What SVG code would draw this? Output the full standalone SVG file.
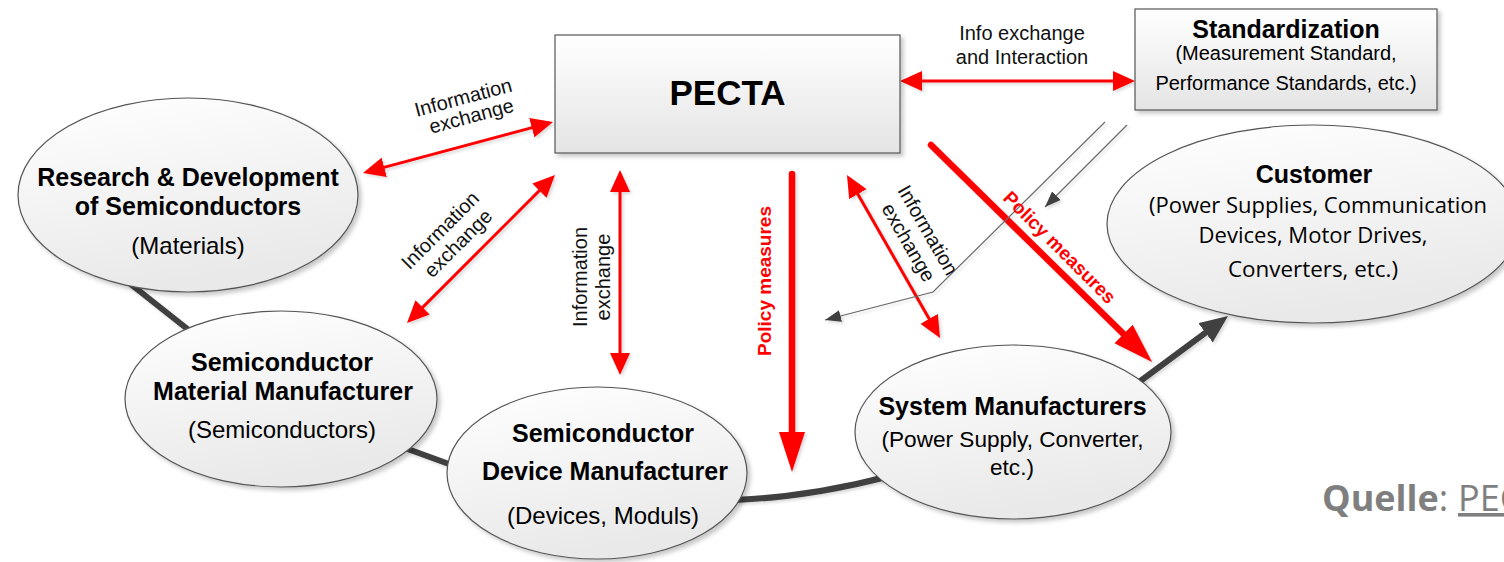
<svg xmlns="http://www.w3.org/2000/svg" width="1504" height="562" viewBox="0 0 1504 562">
<style>
  text { font-family: "Liberation Sans", Arial, sans-serif; fill: #000; }
  .b { font-weight: bold; font-size: 25px; text-anchor: middle; }
  .r { font-size: 24px; text-anchor: middle; }
  .r2 { font-size: 22.6px; text-anchor: middle; }
  .s { font-size: 20px; text-anchor: middle; }
  .lbl { font-size: 20px; text-anchor: middle; fill: #111; }
  .pol { font-size: 19px; font-weight: bold; text-anchor: middle; fill: #ff0000; }
  .cal { font-family: "Open Sans", "Liberation Sans", sans-serif; font-size: 21px; text-anchor: middle; }
  .node { stroke: #555; stroke-width: 1.2; filter: url(#sh); }
  .ell { fill: url(#gE); }
  .box { fill: url(#gB); }
  .red { stroke: #ff0000; stroke-width: 3; fill: none; marker-start: url(#rh); marker-end: url(#rh); }
  .redB { stroke: #ff0000; stroke-width: 6.5; fill: none; marker-end: url(#rB); }
  .dark { stroke: #404040; stroke-width: 6; fill: none; }
  .thin { stroke: #6a6a6a; stroke-width: 1.2; fill: none; marker-end: url(#gh); }
  .src { font-family: "Open Sans", "Liberation Sans", sans-serif; font-size: 36px; fill: #7f7f7f; }
</style>
<defs>
  <linearGradient id="gE" x1="0" y1="0" x2="0.3" y2="1">
    <stop offset="0" stop-color="#ffffff"/>
    <stop offset="1" stop-color="#e9e9e9"/>
  </linearGradient>
  <linearGradient id="gB" x1="0" y1="0" x2="0" y2="1">
    <stop offset="0" stop-color="#ffffff"/>
    <stop offset="1" stop-color="#e4e4e4"/>
  </linearGradient>
  <filter id="sh" x="-10%" y="-10%" width="125%" height="130%">
    <feDropShadow dx="3" dy="3" stdDeviation="2" flood-color="#000" flood-opacity="0.22"/>
  </filter>
  <filter id="shl" x="-20%" y="-20%" width="140%" height="140%">
    <feDropShadow dx="2" dy="2" stdDeviation="1.5" flood-color="#000" flood-opacity="0.15"/>
  </filter>
  <marker id="rh" markerUnits="userSpaceOnUse" markerWidth="22" markerHeight="20" refX="8" refY="10" orient="auto-start-reverse">
    <path d="M0,0 L22,10 L0,20 z" fill="#ff0000"/>
  </marker>
  <marker id="rB" markerUnits="userSpaceOnUse" markerWidth="40" markerHeight="26" refX="20" refY="13" orient="auto">
    <path d="M0,0 L40,13 L0,26 z" fill="#ff0000"/>
  </marker>
  <marker id="dh" markerUnits="userSpaceOnUse" markerWidth="28" markerHeight="24" refX="14" refY="12" orient="auto">
    <path d="M0,0 L28,12 L0,24 z" fill="#404040"/>
  </marker>
  <marker id="gh" markerUnits="userSpaceOnUse" markerWidth="16" markerHeight="12" refX="16" refY="6" orient="auto">
    <path d="M0,0 L16,6 L0,12 z" fill="#404040"/>
  </marker>
</defs>

<g id="connectors">
  <!-- dark chain -->
  <g filter="url(#shl)">
    <line class="dark" x1="128" y1="282" x2="195" y2="335"/>
    <line class="dark" x1="405" y1="448" x2="460" y2="468"/>
    <path class="dark" d="M735,500 Q810,497 890,476"/>
    <line class="dark" x1="1135" y1="385" x2="1216.8" y2="324.4" marker-end="url(#dh)"/>
  </g>
  <!-- red arrows -->
  <g filter="url(#shl)">
    <line class="red" x1="376.5" y1="169.4" x2="539.5" y2="125.6"/>
    <line class="red" x1="416.9" y1="313.1" x2="545.1" y2="184.9"/>
    <line class="red" x1="620" y1="184" x2="620" y2="361"/>
    <line class="red" x1="853.9" y1="187.2" x2="933.1" y2="325.8"/>
    <line class="red" x1="914" y1="81" x2="1121" y2="81"/>
    <line class="redB" x1="792" y1="174" x2="792" y2="452" stroke-linecap="round"/>
    <line class="redB" x1="931" y1="145" x2="1137.8" y2="348" stroke-linecap="round"/>
  </g>
  <!-- thin grey arrows -->
  <g filter="url(#shl)">
    <path class="thin" d="M1105,122 L933,292 L825,320"/>
    <path class="thin" d="M1127,125 L1045,207"/>
  </g>
  <!-- labels -->
  <g transform="translate(465,104) rotate(-15)">
    <text class="lbl" x="0" y="0">Information</text>
    <text class="lbl" x="3" y="20">exchange</text>
  </g>
  <g transform="translate(445,235) rotate(-45)">
    <text class="lbl" x="0" y="0">Information</text>
    <text class="lbl" x="3.5" y="22">exchange</text>
  </g>
  <g transform="translate(587,277) rotate(-90)">
    <text class="lbl" x="0" y="0">Information</text>
    <text class="lbl" x="0" y="23">exchange</text>
  </g>
  <g transform="translate(922,233.5) rotate(60)">
    <text class="lbl" x="0" y="0">Information</text>
    <text class="lbl" x="1" y="23">exchange</text>
  </g>
  <text class="lbl" x="1022" y="40">Info exchange</text>
  <text class="lbl" x="1022" y="64">and Interaction</text>
  <text class="pol" transform="translate(771,281) rotate(-90)">Policy measures</text>
  <text class="pol" transform="translate(1055,252) rotate(45)">Policy measures</text>
</g>

<g id="pecta">
  <rect class="node box" x="555" y="35" width="345" height="118"/>
  <text x="727.5" y="105" style="font-weight:bold;font-size:35px;text-anchor:middle">PECTA</text>
</g>

<g id="standardization">
  <rect class="node box" x="1135" y="9" width="302" height="101"/>
  <text class="b" x="1286" y="38">Standardization</text>
  <text class="s" x="1286" y="60">(Measurement Standard,</text>
  <text class="s" x="1286" y="90">Performance Standards, etc.)</text>
</g>

<g id="rnd">
  <ellipse class="node ell" cx="188" cy="195" rx="170" ry="97"/>
  <text class="b" x="188" y="186">Research &amp; Development</text>
  <text class="b" x="188" y="215">of Semiconductors</text>
  <text class="r" x="188" y="254">(Materials)</text>
</g>

<g id="material">
  <ellipse class="node ell" cx="281" cy="399" rx="156" ry="88"/>
  <text class="b" x="282" y="371">Semiconductor</text>
  <text class="b" x="283" y="400">Material Manufacturer</text>
  <text class="r" x="282" y="438">(Semiconductors)</text>
</g>

<g id="device">
  <ellipse class="node ell" cx="597" cy="473" rx="150" ry="86"/>
  <text class="b" x="603" y="442">Semiconductor</text>
  <text class="b" x="605" y="480">Device Manufacturer</text>
  <text class="r" x="603" y="524">(Devices, Moduls)</text>
</g>

<g id="system">
  <ellipse class="node ell" cx="1013" cy="432" rx="158" ry="87"/>
  <text class="b" x="1012.5" y="415">System Manufacturers</text>
  <text class="r2" x="1012.5" y="447">(Power Supply, Converter,</text>
  <text class="r2" x="1012" y="475">etc.)</text>
</g>

<g id="customer">
  <ellipse class="node ell" cx="1313" cy="224" rx="206" ry="99"/>
  <text class="b" x="1314" y="183">Customer</text>
  <text class="cal" x="1318" y="213" textLength="338" lengthAdjust="spacingAndGlyphs">(Power Supplies, Communication</text>
  <text class="cal" x="1313" y="243" textLength="229" lengthAdjust="spacingAndGlyphs">Devices, Motor Drives,</text>
  <text class="cal" x="1313" y="277" textLength="170" lengthAdjust="spacingAndGlyphs">Converters, etc.)</text>
</g>

<g id="source">
  <text class="src" x="1322" y="511"><tspan font-weight="bold">Quelle</tspan><tspan>:</tspan><tspan x="1458" text-decoration="underline">PEC</tspan></text>
</g>
</svg>
